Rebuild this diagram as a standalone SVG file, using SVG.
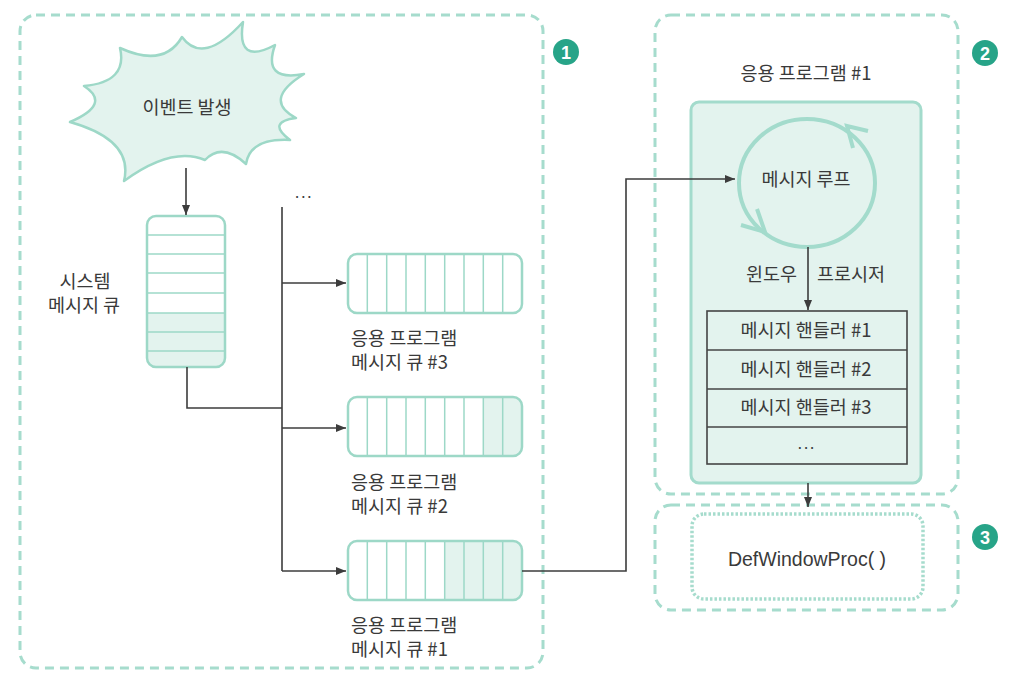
<svg xmlns="http://www.w3.org/2000/svg" width="1018" height="682" viewBox="0 0 1018 682">
<style>
text{font-family:"Noto Sans CJK KR","Noto Sans",sans-serif;fill:#3a3a3a;font-size:18.5px}
.c{text-anchor:middle}
.dash{fill:none;stroke:#a6dccd;stroke-width:3;stroke-dasharray:9 6}
.dot{fill:none;stroke:#a6dccd;stroke-width:3.5;stroke-dasharray:2.5 2}
.q{fill:none;stroke:#9dd8c7;stroke-width:2.5}
.div{stroke:#9dd8c7;stroke-width:1.5}
.shade{fill:#e3f3ee}
.conn{fill:none;stroke:#3c3c3c;stroke-width:1.6}
.num{fill:#27a488}
.numt{font-family:"Liberation Sans",sans-serif;font-weight:bold;fill:#fff;font-size:18px;text-anchor:middle}
.hl{stroke:#444;stroke-width:1.6}
.ell{font-size:15px;letter-spacing:2px}
</style>
<defs>
<marker id="ah" markerUnits="userSpaceOnUse" markerWidth="10" markerHeight="8" refX="10" refY="4" orient="auto">
<path d="M0,0 L10,4 L0,8 Z" fill="#3c3c3c"/>
</marker>
</defs>
<rect width="1018" height="682" fill="#fff"/>

<g id="region1">
<rect class="dash" x="20" y="15" width="523" height="653" rx="16"/>
<circle class="num" cx="566" cy="52" r="13"/>
<text class="numt" x="566" y="58.5">1</text>
</g>
<g id="region2">
<rect class="dash" x="655" y="15" width="303" height="479" rx="16"/>
<circle class="num" cx="985" cy="53" r="13"/>
<text class="numt" x="985" y="59.5">2</text>
</g>
<g id="region3">
<rect class="dash" x="655" y="505" width="303" height="105" rx="16"/>
<circle class="num" cx="985" cy="537" r="13"/>
<text class="numt" x="985" y="543.5">3</text>
</g>

<g id="event">
<path d="M182,37 Q203,66 243,22 Q236,66 275,45 Q262,82 304,74 Q262,100 296,118 Q266,122 290,140 Q250,138 246,164 Q222,142 205,160 Q172,146 124,181 Q134,140 70,122 Q112,104 84,86 Q128,82 120,48 Q164,68 182,37 Z" fill="#e3f3ee" stroke="#9dd8c7" stroke-width="2.5" stroke-linejoin="round"/>
<text class="c" x="187" y="114">이벤트 발생</text>
</g>

<g id="system-queue">
<path class="shade" d="M147,313 H225 V358 Q225,367 216,367 H156 Q147,367 147,358 Z"/>
<line class="div" x1="147" y1="235" x2="225" y2="235"/>
<line class="div" x1="147" y1="254" x2="225" y2="254"/>
<line class="div" x1="147" y1="273" x2="225" y2="273"/>
<line class="div" x1="147" y1="293" x2="225" y2="293"/>
<line class="div" x1="147" y1="313" x2="225" y2="313"/>
<line class="div" x1="147" y1="332" x2="225" y2="332"/>
<line class="div" x1="147" y1="351" x2="225" y2="351"/>
<rect class="q" x="147" y="216" width="78" height="151" rx="9"/>
<text class="c" x="85" y="288">시스템</text>
<text class="c" x="84" y="312">메시지 큐</text>
</g>

<g id="app-queue-3">
<g class="div">
<line x1="367.3" y1="254" x2="367.3" y2="313"/><line x1="386.7" y1="254" x2="386.7" y2="313"/><line x1="406" y1="254" x2="406" y2="313"/><line x1="425.3" y1="254" x2="425.3" y2="313"/><line x1="444.7" y1="254" x2="444.7" y2="313"/><line x1="464" y1="254" x2="464" y2="313"/><line x1="483.3" y1="254" x2="483.3" y2="313"/><line x1="502.7" y1="254" x2="502.7" y2="313"/>
</g>
<rect class="q" x="348" y="254" width="174" height="59" rx="9"/>
<text x="351" y="345">응용 프로그램</text>
<text x="351" y="369">메시지 큐 #3</text>
</g>

<g id="app-queue-2">
<path class="shade" d="M483.3,397 H513 Q522,397 522,406 V447 Q522,456 513,456 H483.3 Z"/>
<g class="div">
<line x1="367.3" y1="397" x2="367.3" y2="456"/><line x1="386.7" y1="397" x2="386.7" y2="456"/><line x1="406" y1="397" x2="406" y2="456"/><line x1="425.3" y1="397" x2="425.3" y2="456"/><line x1="444.7" y1="397" x2="444.7" y2="456"/><line x1="464" y1="397" x2="464" y2="456"/><line x1="483.3" y1="397" x2="483.3" y2="456"/><line x1="502.7" y1="397" x2="502.7" y2="456"/>
</g>
<rect class="q" x="348" y="397" width="174" height="59" rx="9"/>
<text x="351" y="489">응용 프로그램</text>
<text x="351" y="513">메시지 큐 #2</text>
</g>

<g id="app-queue-1">
<path class="shade" d="M444.7,541 H513 Q522,541 522,550 V591 Q522,600 513,600 H444.7 Z"/>
<g class="div">
<line x1="367.3" y1="541" x2="367.3" y2="600"/><line x1="386.7" y1="541" x2="386.7" y2="600"/><line x1="406" y1="541" x2="406" y2="600"/><line x1="425.3" y1="541" x2="425.3" y2="600"/><line x1="444.7" y1="541" x2="444.7" y2="600"/><line x1="464" y1="541" x2="464" y2="600"/><line x1="483.3" y1="541" x2="483.3" y2="600"/><line x1="502.7" y1="541" x2="502.7" y2="600"/>
</g>
<rect class="q" x="348" y="541" width="174" height="59" rx="9"/>
<text x="351" y="632">응용 프로그램</text>
<text x="351" y="656">메시지 큐 #1</text>
</g>

<g id="more-queues">
<text class="ell" x="295" y="198">...</text>
</g>

<g id="app-program-1">
<text class="c" x="806" y="80">응용 프로그램 #1</text>
<rect x="691" y="102" width="230" height="381" rx="8" fill="#e3f3ee" stroke="#a3dbcc" stroke-width="3"/>
</g>

<g id="message-loop">
<ellipse cx="807" cy="183" rx="68" ry="64" fill="none" stroke="#a3dbcc" stroke-width="4"/>
<polyline points="868,131 847,126 853,148" fill="none" stroke="#a3dbcc" stroke-width="4"/>
<polyline points="741,225 765,232 757,209" fill="none" stroke="#a3dbcc" stroke-width="4"/>
<text class="c" x="806" y="186">메시지 루프</text>
</g>

<g id="window-proc-label">
<text x="797" y="281" text-anchor="end">윈도우</text>
<text x="817" y="281">프로시저</text>
</g>

<g id="handlers">
<rect x="707" y="311" width="200" height="153" fill="#e3f3ee" stroke="#444" stroke-width="1.6"/>
<line class="hl" x1="707" y1="350" x2="907" y2="350"/>
<line class="hl" x1="707" y1="389" x2="907" y2="389"/>
<line class="hl" x1="707" y1="427" x2="907" y2="427"/>
<text class="c" x="806" y="337">메시지 핸들러 #1</text>
<text class="c" x="806" y="376">메시지 핸들러 #2</text>
<text class="c" x="806" y="414">메시지 핸들러 #3</text>
<text class="c ell" x="807" y="449">...</text>
</g>

<g id="defwindowproc">
<rect class="dot" x="692" y="514" width="231" height="85" rx="12"/>
<text class="c" x="807" y="566" style="font-family:'Liberation Sans',sans-serif;font-size:19.5px">DefWindowProc( )</text>
</g>

<g id="connectors">
<line class="conn" x1="186" y1="168" x2="186" y2="215" marker-end="url(#ah)"/>
<polyline class="conn" points="187,367 187,408 282,408"/>
<line class="conn" x1="282" y1="207" x2="282" y2="571"/>
<line class="conn" x1="282" y1="283" x2="346" y2="283" marker-end="url(#ah)"/>
<line class="conn" x1="282" y1="428" x2="346" y2="428" marker-end="url(#ah)"/>
<line class="conn" x1="282" y1="571" x2="346" y2="571" marker-end="url(#ah)"/>
<polyline class="conn" points="522,571 626,571 626,179 735,179" marker-end="url(#ah)"/>
<line class="conn" x1="808" y1="247" x2="808" y2="310" marker-end="url(#ah)"/>
<line class="conn" x1="808" y1="483" x2="808" y2="507" marker-end="url(#ah)"/>
</g>
</svg>
